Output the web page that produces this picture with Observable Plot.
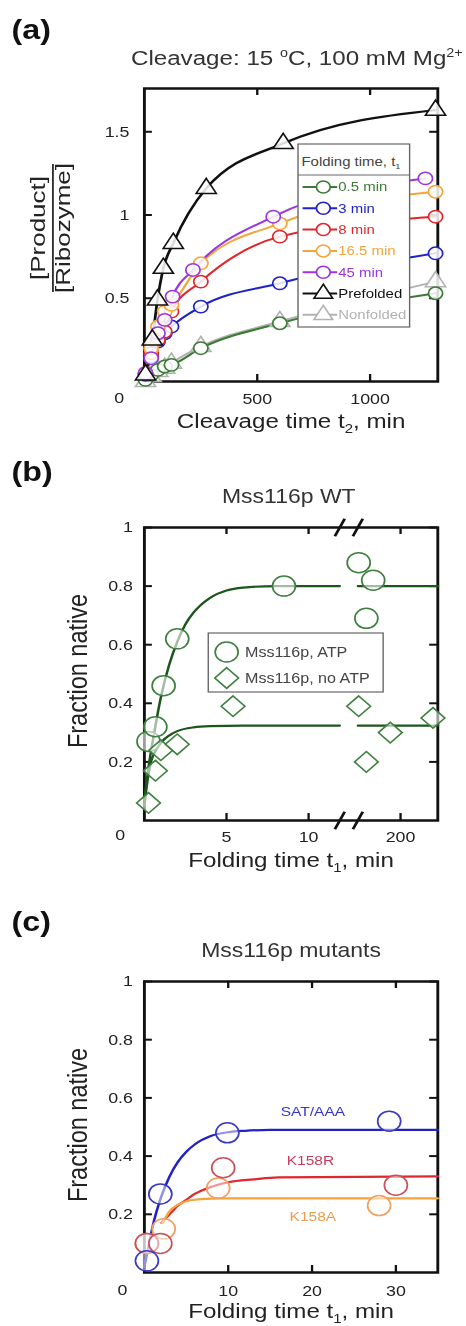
<!DOCTYPE html>
<html><head><meta charset="utf-8">
<script src="https://cdn.jsdelivr.net/npm/d3@7"></script>
<script src="https://cdn.jsdelivr.net/npm/@observablehq/plot@0.6"></script>
<style>
html,body{margin:0;padding:0;background:#fff;overflow:hidden;}
#page{position:relative;width:405px;height:1326px;transform:scaleX(1.1506);transform-origin:0 0;}
</style></head><body><div id="page"></div>
<script>
// ---------------- Panel (a) data ----------------
const aTimes   = [5, 30, 60, 90, 120, 250, 600, 1290];
const aNon     = [0.00, 0.03, 0.06, 0.08, 0.11, 0.21, 0.36, 0.60];
const a05      = [0.01, 0.04, 0.07, 0.09, 0.10, 0.20, 0.35, 0.53];
const a3       = [0.04, 0.15, 0.24, 0.29, 0.33, 0.45, 0.59, 0.77];
const a8       = [0.05, 0.17, 0.25, 0.30, 0.42, 0.60, 0.87, 0.99];
const a165     = [0.05, 0.20, 0.33, 0.42, 0.46, 0.71, 0.95, 1.14];
const a45Times = [5, 30, 60, 90, 125, 215, 571, 1245];
const a45      = [0.05, 0.14, 0.29, 0.37, 0.51, 0.67, 0.99, 1.22];
const aPreTimes= [5, 35, 58, 84, 128, 274, 615, 1290];
const aPre     = [0.04, 0.25, 0.49, 0.68, 0.83, 1.16, 1.43, 1.63];
const aNames   = ["0.5 min", "3 min", "8 min", "16.5 min", "45 min", "Prefolded", "Nonfolded"];
const aColors  = ["#3c7a36", "#1f22c8", "#e0262b", "#f4a53a", "#9a36e0", "#111111", "#b2b2b2"];
const aSymbols = ["circle", "circle", "circle", "circle", "circle", "triangle", "triangle"];
const aXTicks = [500, 1000];
const aYTicks = [0.5, 1, 1.5];

// ---------------- Panel (b) data ----------------
const bAtpT   = [0.25, 0.67, 1.17, 2.0, 8.5, 151, 160, 168];
const bAtpY   = [0.27, 0.32, 0.46, 0.62, 0.80, 0.88, 0.69, 0.82];
const bNoT    = [0.25, 0.67, 1.0, 2.0, 5.4, 151, 160, 188, 238];
const bNoY    = [0.06, 0.17, 0.24, 0.26, 0.39, 0.39, 0.20, 0.30, 0.35];
const bAtpFitT = [0, 0.3, 0.6, 1, 1.5, 2, 2.5, 3, 4, 5, 6, 8, 11.9];
const bAtpFitY = [0.07, 0.20, 0.30, 0.42, 0.53, 0.61, 0.67, 0.71, 0.76, 0.785, 0.795, 0.80, 0.80];
const bNoFitT  = [0, 0.2, 0.4, 0.7, 1, 1.5, 2, 3, 4, 6, 11.9];
const bNoFitY  = [0.05, 0.14, 0.20, 0.24, 0.265, 0.29, 0.305, 0.318, 0.322, 0.324, 0.324];
const bLateT   = [150, 244];
const bAtpLateY = [0.80, 0.80];
const bNoLateY  = [0.324, 0.324];
const bXTicks = [5, 10, 200];
const bYTicks = [0.2, 0.4, 0.6, 0.8, 1];
const bNames  = ["Mss116p, ATP", "Mss116p, no ATP"];
// broken axis: 0–11.9 min, then 150–244 min
function brk(t) { return t <= 12 ? t : 13.0 + (t - 150) * 0.052; }

// ---------------- Panel (c) data ----------------
const cBlueT = [0.3, 1.9, 9.9, 29.2];
const cBlueY = [0.04, 0.27, 0.48, 0.52];
const cRedT  = [0.3, 1.9, 9.4, 30.0];
const cRedY  = [0.10, 0.10, 0.36, 0.30];
const cOrT   = [0.3, 2.3, 8.8, 28.0];
const cOrY   = [0.10, 0.15, 0.29, 0.23];
const cBlueFitT = [0, 0.5, 1, 2, 3, 4, 5, 6, 8, 10, 12, 15, 35];
const cBlueFitY = [0.02, 0.09, 0.16, 0.26, 0.33, 0.38, 0.415, 0.44, 0.47, 0.482, 0.487, 0.49, 0.49];
const cRedFitT  = [2, 3, 4, 5, 6, 8, 10, 13, 16, 35];
const cRedFitY  = [0.17, 0.20, 0.23, 0.25, 0.27, 0.295, 0.31, 0.32, 0.327, 0.33];
const cOrFitT   = [2.2, 3, 4, 5, 6, 8, 10, 35];
const cOrFitY   = [0.17, 0.21, 0.233, 0.245, 0.25, 0.254, 0.255, 0.255];
const cLabels  = ["SAT/AAA", "K158R", "K158A"];
const cLabelT  = [20.1, 19.8, 20.1];
const cLabelY  = [0.552, 0.386, 0.193];
const cXTicks = [10, 20, 30];
const cYTicks = [0.2, 0.4, 0.6, 0.8, 1];

// ---------------- helpers ----------------
const FONT = "'Liberation Sans', Arial, Helvetica, sans-serif";
const W = 405, ML = 125, MR = 25, PW = W - ML - MR;
const zip = (ts, ys) => ts.map((t, i) => ({t, y: ys[i]}));
const page = document.getElementById("page");

function framePlot(cfg) {
  const PH = cfg.height - cfg.mt - cfg.mb;
  const tk = {stroke: "#111", strokeWidth: 2};
  const svg = Plot.plot({
    width: W, height: cfg.height,
    marginLeft: ML, marginRight: MR, marginTop: cfg.mt, marginBottom: cfg.mb,
    style: {fontFamily: FONT, fontSize: "15px", color: "#222", background: "transparent", overflow: "visible"},
    x: {domain: cfg.xDomain, label: null},
    y: {domain: cfg.yDomain, label: null},
    marks: [
      Plot.frame({stroke: "#111", strokeWidth: 2.5}),
      Plot.tickY(cfg.yTicks, {y: d => d, insetRight: PW - 7, ...tk}),
      Plot.tickY(cfg.yTicks, {y: d => d, insetLeft: PW - 7, ...tk}),
      Plot.tickX(cfg.xTickPos, {x: d => d, insetTop: PH - 7, ...tk}),
      Plot.tickX(cfg.xTickPos, {x: d => d, insetBottom: PH - 7, ...tk}),
      Plot.axisY(cfg.yTicks, {tickSize: 0, tickPadding: cfg.yPad, tickFormat: d => String(d), fontSize: 15.5}),
      Plot.axisX(cfg.xTickPos, {tickSize: 0, tickPadding: cfg.xPad, tickFormat: cfg.xFmt, fontSize: 15.5}),
      Plot.text(["0"], {text: d => d, frameAnchor: "bottom-left", textAnchor: "middle", lineAnchor: "middle", dx: cfg.zdx, dy: cfg.zdy, fontSize: 15.5, fill: "#222"}),
      ...cfg.marks
    ]
  });
  svg.style.position = "absolute";
  svg.style.left = "0px";
  svg.style.top = cfg.top + "px";
  page.appendChild(svg);
}

// ---------------- Panel (a) ----------------
const aSeries = [
  {i: 6, t: aTimes, y: aNon},
  {i: 0, t: aTimes, y: a05},
  {i: 1, t: aTimes, y: a3},
  {i: 2, t: aTimes, y: a8},
  {i: 3, t: aTimes, y: a165},
  {i: 4, t: a45Times, y: a45},
  {i: 5, t: aPreTimes, y: aPre}
];
const aMarks = [];
for (const s of aSeries) {
  const rows = zip(s.t, s.y);
  aMarks.push(Plot.line(rows, {x: "t", y: "y", stroke: aColors[s.i], strokeWidth: s.i === 5 ? 2.4 : 2, curve: "monotone-x"}));
}
for (const s of aSeries) {
  const rows = zip(s.t, s.y);
  aMarks.push(Plot.dot(rows, {x: "t", y: "y", symbol: aSymbols[s.i], r: aSymbols[s.i] === "circle" ? 6.2 : 6.5,
    stroke: aColors[s.i], strokeWidth: 1.5, fill: "white", fillOpacity: 0.85}));
}
framePlot({top: 0, height: 440, mt: 88, mb: 59, xDomain: [0, 1300], yDomain: [0, 1.76],
  xTickPos: aXTicks, xFmt: d => String(d), yTicks: aYTicks, xPad: 11, yPad: 13, zdx: -22, zdy: 17, marks: aMarks});

// ---------------- Panel (b) ----------------
const bGreenLine = "#1d561d", bGreen = "#3f7f3f";
const bLbl = new Map(bXTicks.map(t => [brk(t), String(t)]));
const bMarks = [
  Plot.line(zip(bAtpFitT, bAtpFitY), {x: d => brk(d.t), y: "y", stroke: bGreenLine, strokeWidth: 2.2, curve: "monotone-x"}),
  Plot.line(zip(bNoFitT, bNoFitY), {x: d => brk(d.t), y: "y", stroke: bGreenLine, strokeWidth: 2.2, curve: "monotone-x"}),
  Plot.line(zip(bLateT, bAtpLateY), {x: d => brk(d.t), y: "y", stroke: bGreenLine, strokeWidth: 2.2}),
  Plot.line(zip(bLateT, bNoLateY), {x: d => brk(d.t), y: "y", stroke: bGreenLine, strokeWidth: 2.2}),
  Plot.dot(zip(bAtpT, bAtpY), {x: d => brk(d.t), y: "y", r: 10, stroke: bGreen, strokeWidth: 1.5, fill: "white", fillOpacity: 0.6}),
  Plot.dot(zip(bNoT, bNoY), {x: d => brk(d.t), y: "y", symbol: "diamond2", r: 9.3, stroke: bGreen, strokeWidth: 1.5, fill: "white", fillOpacity: 0.6}),
  // axis-break marks at the two ends of the gap, top and bottom
  Plot.link([11.9, 13.0].flatMap(b => [0, 1].map(y0 => ({b, y0}))), {
    x1: d => d.b - 0.3, x2: d => d.b + 0.3, y1: d => d.y0 - 0.03, y2: d => d.y0 + 0.03,
    stroke: "#111", strokeWidth: 2.5})
];
framePlot({top: 440, height: 440, mt: 87, mb: 60, xDomain: [0, 17.87], yDomain: [0, 1],
  xTickPos: bXTicks.map(brk), xFmt: v => bLbl.get(v), yTicks: bYTicks, xPad: 10, yPad: 10, zdx: -21, zdy: 15, marks: bMarks});

// ---------------- Panel (c) ----------------
const cBlue = "#2222c4", cRed = "#e0262e", cOr = "#f3a43c";
const cMarks = [
  Plot.line(zip(cBlueFitT, cBlueFitY), {x: "t", y: "y", stroke: cBlue, strokeWidth: 2.2, curve: "monotone-x"}),
  Plot.line(zip(cRedFitT, cRedFitY), {x: "t", y: "y", stroke: cRed, strokeWidth: 2.2, curve: "monotone-x"}),
  Plot.line(zip(cOrFitT, cOrFitY), {x: "t", y: "y", stroke: cOr, strokeWidth: 2.2, curve: "monotone-x"}),
  Plot.dot(zip(cOrT, cOrY), {x: "t", y: "y", r: 10, stroke: "#f0a060", strokeWidth: 1.5, fill: "white", fillOpacity: 0.5}),
  Plot.dot(zip(cRedT, cRedY), {x: "t", y: "y", r: 10, stroke: "#c8505a", strokeWidth: 1.5, fill: "white", fillOpacity: 0.5}),
  Plot.dot(zip(cBlueT, cBlueY), {x: "t", y: "y", r: 10, stroke: "#3a3ac4", strokeWidth: 1.5, fill: "white", fillOpacity: 0.5}),
  Plot.text(cLabels.map((s, i) => ({s, t: cLabelT[i], y: cLabelY[i], c: ["#3434d0", "#c83a5a", "#eb9c50"][i]})),
    {x: "t", y: "y", text: "s", fill: d => d.c, fontSize: 13.5})
];
framePlot({top: 880, height: 446, mt: 101, mb: 54, xDomain: [0, 35], yDomain: [0, 1],
  xTickPos: cXTicks, xFmt: d => String(d), yTicks: cYTicks, xPad: 12, yPad: 10, zdx: -19, zdy: 18, marks: cMarks});

// ---------------- Overlay: letters, titles, axis labels, legends ----------------
const ov = d3.create("svg").attr("width", W).attr("height", 1326)
  .style("position", "absolute").style("left", "0px").style("top", "0px")
  .style("font-family", FONT).style("overflow", "visible");
function txt(x, y, size, color, anchor) {
  return ov.append("text").attr("x", x).attr("y", y).attr("font-size", size).attr("fill", color).attr("text-anchor", anchor || "middle");
}
// panel letters
[["(a)", 39], ["(b)", 481], ["(c)", 931]].forEach(([s, y]) => txt(10, y, 28, "#111", "start").attr("font-weight", "bold").text(s));
// titles
{
  const t = txt(258, 65, 21, "#333");
  t.append("tspan").text("Cleavage: 15 ");
  t.append("tspan").attr("dy", -8).attr("font-size", 12.5).text("o");
  t.append("tspan").attr("dy", 8).text("C, 100 mM Mg");
  t.append("tspan").attr("dy", -8).attr("font-size", 12.5).text("2+");
}
txt(251, 503, 20, "#333").text("Mss116p WT");
txt(253, 957, 20, "#333").text("Mss116p mutants");
// x labels
function xlab(y, pre, sub) {
  const t = txt(253, y, 21, "#222");
  t.append("tspan").text(pre);
  t.append("tspan").attr("dy", 5).attr("font-size", 13).text(sub);
  t.append("tspan").attr("dy", -5).text(", min");
}
xlab(428, "Cleavage time  t", "2");
xlab(867, "Folding time  t", "1");
xlab(1318, "Folding time  t", "1");
// y labels
function rot(x, y, size, s, squeeze) {
  txt(0, 0, size, "#222").attr("transform", `translate(${x},${y}) rotate(-90) scale(1,${squeeze || 1})`).text(s);
}
rot(39, 228, 26, "[Product]", 0.7);
rot(61, 228, 26, "[Ribozyme]", 0.7);
ov.append("line").attr("x1", 46).attr("x2", 46).attr("y1", 164).attr("y2", 292).attr("stroke", "#222").attr("stroke-width", 1.5);
rot(76, 671, 23.5, "Fraction native");
rot(76, 1125, 23.5, "Fraction native");

// legend (a)
{
  const g = ov.append("g");
  g.append("rect").attr("x", 259).attr("y", 144).attr("width", 97).attr("height", 183).attr("fill", "white").attr("stroke", "#666").attr("stroke-width", 1.2);
  const t = g.append("text").attr("x", 262).attr("y", 166).attr("font-size", 13).attr("fill", "#444");
  t.append("tspan").text("Folding time, t");
  t.append("tspan").attr("dy", 3).attr("font-size", 8).text("1");
  g.append("line").attr("x1", 259).attr("x2", 356).attr("y1", 175).attr("y2", 175).attr("stroke", "#666").attr("stroke-width", 1);
  aNames.forEach((name, i) => {
    const cy = 187 + i * 21.3;
    g.append("line").attr("x1", 263).attr("x2", 293).attr("y1", cy).attr("y2", cy).attr("stroke", aColors[i]).attr("stroke-width", 2);
    const sym = aSymbols[i] === "circle" ? d3.symbolCircle : d3.symbolTriangle;
    g.append("path").attr("d", d3.symbol(sym, Math.PI * 6 * 6)()).attr("transform", `translate(281,${cy})`)
      .attr("fill", "white").attr("stroke", aColors[i]).attr("stroke-width", 1.5);
    g.append("text").attr("x", 294).attr("y", cy + 4.5).attr("font-size", 13).attr("fill", aColors[i]).text(name);
  });
}
// legend (b)
{
  const g = ov.append("g");
  g.append("rect").attr("x", 181).attr("y", 633).attr("width", 152).attr("height", 59).attr("fill", "white").attr("stroke", "#666").attr("stroke-width", 1.2);
  const syms = [d3.symbolCircle, d3.symbolDiamond2];
  const sizes = [Math.PI * 10 * 10, Math.PI * 9.3 * 9.3];
  bNames.forEach((name, i) => {
    const cy = 652 + i * 26;
    g.append("path").attr("d", d3.symbol(syms[i], sizes[i])()).attr("transform", `translate(197,${cy})`)
      .attr("fill", "white").attr("stroke", bGreen).attr("stroke-width", 1.5);
    g.append("text").attr("x", 213).attr("y", cy + 5).attr("font-size", 14).attr("fill", "#444").text(name);
  });
}
page.appendChild(ov.node());
</script></body></html>
